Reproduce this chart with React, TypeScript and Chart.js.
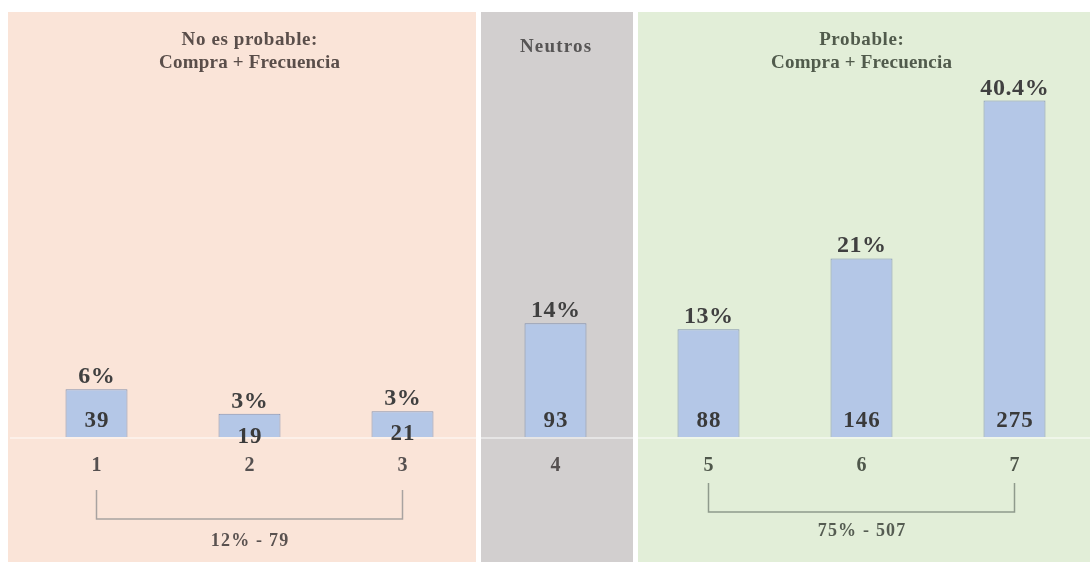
import React, { useEffect, useRef } from "react";
import { Chart, registerables } from "chart.js";

Chart.register(...registerables);

const categories = ["1", "2", "3", "4", "5", "6", "7"];
const counts = [39, 19, 21, 93, 88, 146, 275];
const pctLabels = ["6%", "3%", "3%", "14%", "13%", "21%", "40.4%"];

const groupTitles = [
  ["No es probable:", "Compra + Frecuencia"],
  ["Neutros"],
  ["Probable:", "Compra + Frecuencia"],
];
const groupRanges = [
  [0, 2],
  [3, 3],
  [4, 6],
];
const groupSummaries = ["12% - 79", "", "75% - 507"];
const groupColors = ["#FAE4D8", "#D2CFCF", "#E2EED8"];
const groupTextColors = ["#5a4e4a", "#575555", "#515b4c"];

const SERIF = '"Liberation Serif", "DejaVu Serif", serif';

function spaced(ctx: any, text: string, x: number, y: number, spacing: number) {
  ctx.letterSpacing = `${spacing}px`;
  ctx.fillText(text, x + spacing / 2, y);
  ctx.letterSpacing = "0px";
}

const overlayPlugin = {
  id: "overlay",
  beforeDraw(chart: any) {
    const ctx = chart.ctx;
    const x = chart.scales.x;
    const y = chart.scales.y;
    const base = y.getPixelForValue(0);
    const c = (i: number) => x.getPixelForValue(i);
    const b34 = (c(2) + c(3)) / 2;
    const b45 = (c(3) + c(4)) / 2;
    const top = 12;
    const bottom = chart.height;
    ctx.save();
    ctx.fillStyle = "#ffffff";
    ctx.fillRect(0, 0, chart.width, chart.height);
    ctx.fillStyle = groupColors[0];
    ctx.fillRect(8, top, b34 - 3 - 8, bottom - top);
    ctx.fillStyle = groupColors[1];
    ctx.fillRect(b34 + 2, top, b45 - b34 - 1, bottom - top);
    ctx.fillStyle = groupColors[2];
    ctx.fillRect(b45 + 6, top, chart.width - 1 - (b45 + 6), bottom - top);
    ctx.strokeStyle = "rgba(255,255,255,0.45)";
    ctx.lineWidth = 2;
    ctx.beginPath();
    ctx.moveTo(10, base + 1);
    ctx.lineTo(chart.width, base + 1);
    ctx.stroke();
    ctx.restore();
  },
  afterDatasetsDraw(chart: any) {
    const ctx = chart.ctx;
    const x = chart.scales.x;
    const y = chart.scales.y;
    const base = y.getPixelForValue(0);
    const c = (i: number) => x.getPixelForValue(i);
    ctx.save();
    ctx.textAlign = "center";

    counts.forEach((v, i) => {
      const topPx = y.getPixelForValue(v);
      ctx.fillStyle = "#404040";
      ctx.font = `bold 24px ${SERIF}`;
      ctx.textBaseline = "alphabetic";
      spaced(ctx, pctLabels[i], c(i), topPx - 6, 0.6);
      ctx.font = `bold 23px ${SERIF}`;
      ctx.textBaseline = "middle";
      ctx.fillStyle = "#3a3a3a";
      const cy = Math.max(base - 16, topPx + 23);
      spaced(ctx, String(v), c(i), cy, 1);
    });

    ctx.font = `bold 20px ${SERIF}`;
    ctx.textBaseline = "middle";
    categories.forEach((lab, i) => {
      const g = groupRanges.findIndex((r) => i >= r[0] && i <= r[1]);
      ctx.fillStyle = g === 2 ? "#4f574b" : "#555050";
      ctx.fillText(lab, c(i), base + 29);
    });

    groupTitles.forEach((lines, g) => {
      const [a, b] = groupRanges[g];
      const cx = (c(a) + c(b)) / 2;
      ctx.fillStyle = groupTextColors[g];
      ctx.textBaseline = "middle";
      ctx.font = `bold 19px ${SERIF}`;
      if (lines.length === 1) {
        spaced(ctx, lines[0], cx, 47, 1.2);
      } else {
        spaced(ctx, lines[0], cx, 40, 0.6);
        spaced(ctx, lines[1], cx, 63, 0.2);
      }
    });

    const bracket = [
      { top: base + 53, bot: base + 82, text: base + 104 },
      null,
      { top: base + 46, bot: base + 75, text: base + 94 },
    ];
    groupSummaries.forEach((s, g) => {
      const br = bracket[g];
      if (!s || !br) return;
      const [a, b] = groupRanges[g];
      const x1 = c(a);
      const x2 = c(b);
      ctx.strokeStyle = g === 2 ? "#8f9a8c" : "#a8a2a0";
      ctx.lineWidth = 1.5;
      ctx.beginPath();
      ctx.moveTo(x1, br.top);
      ctx.lineTo(x1, br.bot);
      ctx.lineTo(x2, br.bot);
      ctx.lineTo(x2, br.top);
      ctx.stroke();
      ctx.fillStyle = g === 2 ? "#555c52" : "#5a5250";
      ctx.font = `bold 18px ${SERIF}`;
      ctx.textBaseline = "middle";
      spaced(ctx, s, (x1 + x2) / 2, br.text, 1.2);
    });
    ctx.restore();
  },
};

export default function App() {
  const ref = useRef<HTMLCanvasElement | null>(null);
  useEffect(() => {
    document.body.style.margin = "0";
    const canvas = ref.current;
    if (!canvas) return;
    const chart = new Chart(canvas, {
      type: "bar",
      data: {
        labels: categories,
        datasets: [
          {
            data: counts,
            backgroundColor: "#B4C7E7",
            borderColor: "rgba(120,138,172,0.9)",
            borderWidth: 1,
            barPercentage: 0.405,
            categoryPercentage: 1,
          },
        ],
      },
      options: {
        responsive: false,
        animation: false,
        devicePixelRatio: 1,
        layout: { padding: { left: 20, right: 0, top: 70, bottom: 125 } },
        plugins: {
          legend: { display: false },
          tooltip: { enabled: false },
          title: { display: false },
        },
        scales: {
          x: { display: false, offset: true },
          y: { display: false, min: 0, max: 300 },
        },
      },
      plugins: [overlayPlugin],
    });
    return () => chart.destroy();
  }, []);
  return (
    <canvas
      ref={ref}
      width={1091}
      height={562}
      style={{ display: "block", position: "fixed", left: 0, top: 0 }}
    />
  );
}
